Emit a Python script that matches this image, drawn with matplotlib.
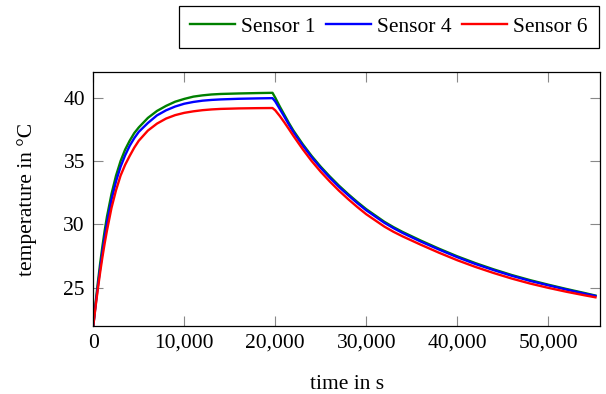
import matplotlib
matplotlib.use("Agg")
import matplotlib.pyplot as plt
from matplotlib.ticker import FuncFormatter

# time in s, temperatures in degC
time_s = [0, 250, 500, 750, 1000, 1250, 1500, 2000, 2500, 3000, 3500, 4000, 4500, 5000,
          6000, 7000, 8000, 9000, 10000, 11000, 12000, 13000, 14000, 16000, 18000, 19700,
          20000, 20500, 21000, 21500, 22000, 23000, 24000, 25000, 26000, 27000, 28000,
          29000, 30000, 32000, 33000, 34000, 36000, 38000, 40000, 42000, 44000, 46000,
          48000, 50000, 52000, 54000, 55200]

sensor1 = [22.0, 23.8, 25.4, 26.9, 28.25, 29.5, 30.6, 32.4, 33.85, 35.0, 35.9, 36.6, 37.2, 37.65,
           38.4, 38.95, 39.35, 39.68, 39.9, 40.08, 40.18, 40.25, 40.29, 40.33, 40.36, 40.38,
           40.0, 39.3, 38.65, 38.0, 37.4, 36.35, 35.4, 34.55, 33.78, 33.06, 32.4,
           31.78, 31.2, 30.2, 29.78, 29.4, 28.72, 28.08, 27.48, 26.94, 26.45, 26.0,
           25.6, 25.24, 24.9, 24.58, 24.38]

sensor4 = [22.0, 23.6, 25.1, 26.5, 27.8, 29.0, 30.1, 31.95, 33.4, 34.55, 35.45, 36.2, 36.8, 37.3,
           38.0, 38.6, 39.0, 39.3, 39.52, 39.66, 39.76, 39.82, 39.86, 39.91, 39.94, 39.96,
           39.7, 39.1, 38.5, 37.87, 37.28, 36.25, 35.3, 34.45, 33.68, 32.96, 32.31,
           31.69, 31.11, 30.12, 29.7, 29.32, 28.64, 28.01, 27.41, 26.87, 26.39, 25.94,
           25.54, 25.19, 24.85, 24.53, 24.35]

sensor6 = [22.0, 23.5, 24.9, 26.2, 27.4, 28.5, 29.5, 31.3, 32.7, 33.85, 34.7, 35.4, 36.05, 36.6,
           37.4, 37.95, 38.35, 38.62, 38.8, 38.92, 39.01, 39.07, 39.11, 39.15, 39.17, 39.18,
           39.0, 38.55, 38.05, 37.52, 36.98, 35.95, 35.0, 34.15, 33.38, 32.66, 32.0,
           31.38, 30.8, 29.82, 29.41, 29.05, 28.39, 27.76, 27.17, 26.64, 26.16, 25.72,
           25.33, 24.99, 24.68, 24.4, 24.24]

plt.rcParams['font.family'] = ['Liberation Serif', 'DejaVu Serif']
plt.rcParams['font.size'] = 15.5

fig = plt.figure(figsize=(6.06, 3.94), dpi=100)
ax = fig.add_axes([93.3 / 606, 1 - 325.7 / 394, (600 - 93.3) / 606, (325.7 - 72.3) / 394])

ax.plot(time_s, sensor1, color='#008000', lw=1.7, label='Sensor 1')
ax.plot(time_s, sensor4, color='#0000ff', lw=1.7, label='Sensor 4')
ax.plot(time_s, sensor6, color='#ff0000', lw=1.7, label='Sensor 6')

ax.set_xlim(0, 55700)
ax.set_ylim(22, 42)
ax.set_xticks([0, 10000, 20000, 30000, 40000, 50000])
ax.set_yticks([25, 30, 35, 40])
ax.xaxis.set_major_formatter(FuncFormatter(lambda v, p: f"{v:,.0f}"))
ax.tick_params(direction='in', length=7.2, width=0.8, color='#888888',
               top=True, right=True, pad=6)
for s in ax.spines.values():
    s.set_linewidth(0.9)

ax.set_xlabel('time in s', labelpad=16)
ax.set_ylabel('temperature in °C', labelpad=19)

fig.legend(loc='upper right', bbox_to_anchor=(598.5 / 606, 1 - 6 / 394), ncol=3,
           frameon=True, fancybox=False, edgecolor='black', framealpha=1,
           handlelength=2.1, handletextpad=0.3, columnspacing=0.45,
           borderpad=0.5, borderaxespad=0)
fig.legends[0].get_frame().set_linewidth(0.9)

fig.savefig('out.png', dpi=100)
